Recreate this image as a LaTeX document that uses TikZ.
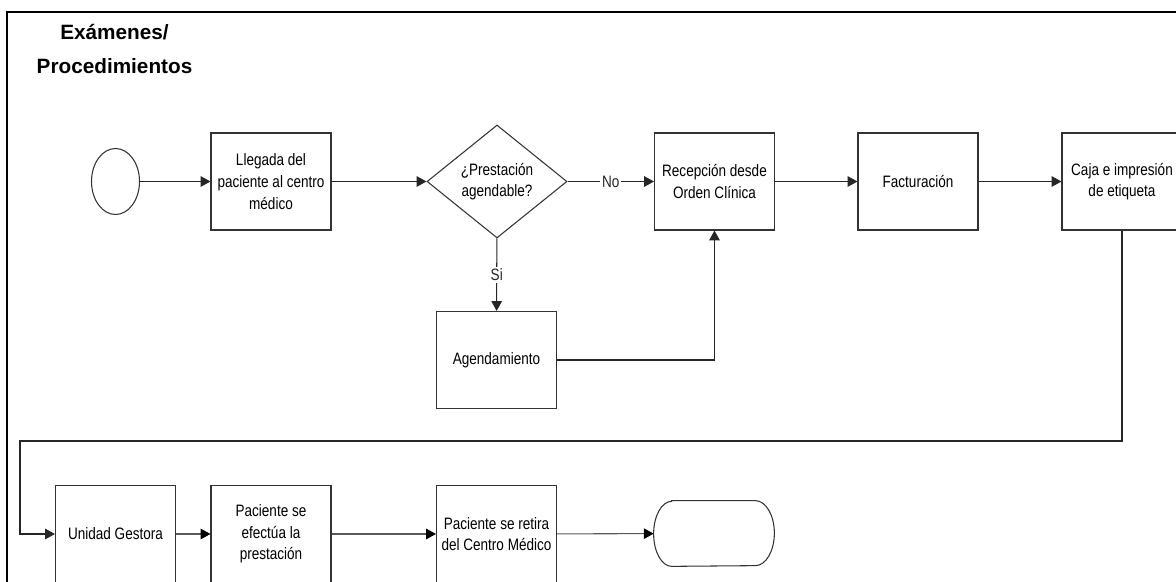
\documentclass[tikz,border=0pt]{standalone}
\usepackage{fontspec}
\setmainfont{Liberation Sans}
\newfontfamily\estrecha[FakeStretch=0.82]{Liberation Sans}
\usepackage{tikz}
\usetikzlibrary{arrows.meta, shapes.geometric, positioning, calc}

\begin{document}
\begin{tikzpicture}[font=\estrecha\fontsize{9.4}{12.3}\selectfont,
	paso/.style={rectangle, draw=black!80, line width=0.6pt, fill=white,
		align=center, minimum width=2.4cm, minimum height=1.94cm, inner sep=1pt},
	decision/.style={diamond, draw=black!80, line width=0.6pt, fill=white,
		align=center, minimum width=2.8cm, minimum height=2.26cm, inner sep=0pt},
	inicio/.style={ellipse, draw=black!80, line width=0.6pt,
		minimum width=0.96cm, minimum height=1.32cm, inner sep=0pt},
	termino/.style={rectangle, minimum width=2.4cm, minimum height=1.3cm},
	etiq/.style={fill=white, inner sep=1pt},
	fl/.style={-{Triangle[length=5.6pt, width=6pt]}, line width=0.6pt, black!85},
	flg/.style={-{Triangle[length=5.6pt, width=6pt, black]}, line width=0.6pt, black!65}]

	\useasboundingbox (0,0) rectangle (23.52,-11.64);
	\clip (0,0) rectangle (23.52,-11.64);

	% marco y titulo
	\draw[line width=1.1pt] (0.14,-12.5) -- (0.14,-0.24) -- (24,-0.24);
	\node[font=\bfseries\fontsize{11.8}{18.8}\selectfont, align=center] (titulo)
		at (2.29,-0.98) {Exámenes/\\Procedimientos};

	% fila superior
	\node[inicio]   (ini) at (2.31,-3.63) {};
	\node[paso]     (lleg) at (5.42,-3.63) {Llegada del\\paciente al centro\\médico};
	\node[decision] (prest) at (9.94,-3.63) {¿Prestación\\agendable?};
	\node[paso]     (recep) at (14.29,-3.63) {Recepción desde\\Orden Clínica};
	\node[paso]     (fact) at (18.36,-3.63) {Facturación};
	\node[paso]     (caja) at (22.44,-3.63) {Caja e impresión\\de etiqueta};
	\node[paso]     (agen) at (9.93,-7.2) {Agendamiento};

	% fila inferior
	\node[paso]     (unid) at (2.31,-10.68) {Unidad Gestora};
	\node[paso]     (efec) at (5.42,-10.68) {Paciente se\\efectúa la\\prestación};
	\node[paso]     (reti) at (9.93,-10.68) {Paciente se retira\\del Centro Médico};
	\node[termino]  (fin) at (14.28,-10.67) {};
	\draw[draw=black!80, line width=0.6pt]
		($(fin.north west)+(0.36,0)$) -- ($(fin.north east)+(-0.38,0)$)
		arc[start angle=90, end angle=-90, x radius=0.38, y radius=0.65]
		-- ($(fin.south west)+(0.36,0)$)
		arc[start angle=270, end angle=90, x radius=0.36, y radius=0.65] -- cycle;
	\coordinate (codo) at (0.4,-8.82);

	\draw[fl] (ini) -- (lleg);
	\draw[fl] (lleg) -- (prest);
	\draw[fl] (prest) -- node[etiq] {No} (recep);
	\draw[fl] (prest) -- node[etiq] {Si} (agen);
	\draw[fl] (agen) -| (recep);
	\draw[fl] (recep) -- (fact);
	\draw[fl] (fact) -- (caja);
	\draw[fl] (caja.south) |- (codo) |- (unid.west);
	\draw[flg] (unid) -- (efec);
	\draw[flg] (efec) -- (reti);
	\draw[flg] (reti) -- (fin);
\end{tikzpicture}
\end{document}
